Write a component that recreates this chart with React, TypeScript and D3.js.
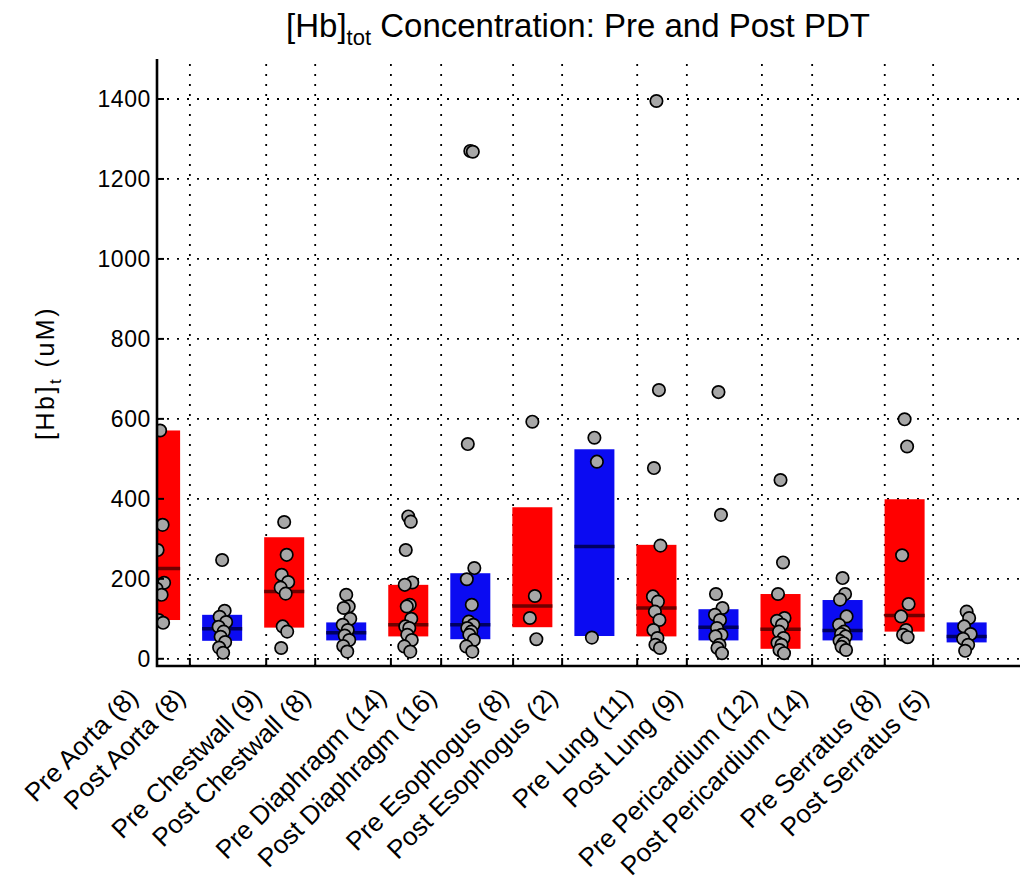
import React from "react";
import * as d3 from "d3";

// Tissue groups, in plotting order (positions 1..14)
const categories = [
  "Pre Aorta (8)",
  "Post Aorta (8)",
  "Pre Chestwall (9)",
  "Post Chestwall (8)",
  "Pre Diaphragm (14)",
  "Post Diaphragm (16)",
  "Pre Esophogus (8)",
  "Post Esophogus (2)",
  "Pre Lung (11)",
  "Post Lung (9)",
  "Pre Pericardium (12)",
  "Post Pericardium (14)",
  "Pre Serratus (8)",
  "Post Serratus (5)",
];

// Box extents and medians, [Hb]t in uM
const boxLow = [97, 45, 78, 46, 56, 49, 79, 57, 56, 46, 25, 46, 68, 41];
const boxHigh = [571, 110, 304, 91, 185, 214, 379, 524, 285, 124, 162, 147, 399, 91];
const medians = [226, 75, 168, 65, 85, 85, 132, 281, 127, 79, 74, 71, 108, 56];

// Individual measurements per group
const samples: number[][] = [
  [571, 335, 272, 190, 175, 160, 97, 90],
  [247, 120, 105, 92, 80, 68, 55, 42, 28, 15],
  [342, 260, 210, 192, 178, 163, 81, 68, 27],
  [160, 131, 127, 100, 85, 72, 58, 47, 32, 18],
  [356, 343, 272, 191, 185, 135, 131, 100, 81, 77, 60, 47, 31, 18],
  [1270, 1268, 537, 227, 199, 135, 93, 85, 77, 68, 60, 47, 31, 18],
  [593, 157, 102, 49],
  [553, 493, 53],
  [1395, 672, 477, 283, 156, 143, 118, 97, 72, 52, 35, 27],
  [667, 360, 162, 127, 110, 97, 77, 60, 56, 35, 27, 14],
  [447, 241, 162, 102, 95, 85, 68, 52, 40, 35, 22, 14],
  [202, 162, 148, 106, 85, 68, 62, 56, 45, 39, 30, 22],
  [599, 531, 259, 137, 106, 72, 60, 54],
  [118, 102, 81, 62, 50, 35, 20],
];

// Category tick locations on the x axis (in group-position units)
const xTickPositions = [
  0.72, 1.48, 2.71, 3.5, 4.72, 5.53, 6.69, 7.48, 8.69, 9.49, 10.7, 11.51, 12.68, 13.46,
];
const yTicks = [0, 200, 400, 600, 800, 1000, 1200, 1400];

const W = 1024;
const H = 888;
const left = 157;
const right = 1020;
const top = 59;
const bottom = 666;

const RED = "#ff0000";
const BLUE = "#0b0bf2";
const RED_MED = "#6e0000";
const BLUE_MED = "#000060";
const FONT = "'Liberation Sans', Arial, Helvetica, sans-serif";

// horizontal spread of markers inside a group (fraction of box half-width)
const spread = [0, 0.25, -0.25, 0.4, -0.35, 0.15, -0.15, 0.3, -0.3, 0.1, -0.1, 0.35, -0.4, 0.2, -0.2, 0.05];

export default function App() {
  const x = d3.scaleLinear().domain([0.95, 14.86]).range([left, right]);
  const y = d3.scaleLinear().domain([-18, 1500]).range([bottom, top]);
  const boxW = x(1.645) - x(1);
  const half = boxW / 2;

  const visibleTicks = xTickPositions.filter((t) => t >= x.domain()[0] && t <= x.domain()[1]);

  return (
    <svg
      width={W}
      height={H}
      viewBox={`0 0 ${W} ${H}`}
      style={{ position: "fixed", left: 0, top: 0, background: "#fff" }}
      fontFamily={FONT}
    >
      <defs>
        <clipPath id="plotArea">
          <rect x={left} y={top} width={right - left} height={bottom - top} />
        </clipPath>
      </defs>
      <rect x={0} y={0} width={W} height={H} fill="#fff" />

      {/* title */}
      <text x={578} y={37} textAnchor="middle" fontSize={33} fill="#000">
        [Hb]
        <tspan fontSize={22} dy={8}>tot</tspan>
        <tspan dy={-8}> Concentration: Pre and Post PDT</tspan>
      </text>

      {/* grid */}
      <g stroke="#000" strokeWidth={1.8} strokeDasharray="2 8" fill="none">
        {yTicks.map((v) => (
          <line key={`gy${v}`} x1={left} x2={right} y1={y(v)} y2={y(v)} />
        ))}
        {visibleTicks.map((t) => (
          <line key={`gx${t}`} x1={x(t)} x2={x(t)} y1={bottom} y2={top} />
        ))}
      </g>

      <g clipPath="url(#plotArea)">
        {/* boxes */}
        {categories.map((c, i) => {
          const cx = x(i + 1);
          return (
            <rect
              key={`b${c}`}
              x={cx - half}
              y={y(boxHigh[i])}
              width={boxW}
              height={y(boxLow[i]) - y(boxHigh[i])}
              fill={i % 2 === 0 ? RED : BLUE}
            />
          );
        })}
        {/* medians */}
        {categories.map((c, i) => {
          const cx = x(i + 1);
          return (
            <line
              key={`m${c}`}
              x1={cx - half}
              x2={cx + half}
              y1={y(medians[i])}
              y2={y(medians[i])}
              stroke={i % 2 === 0 ? RED_MED : BLUE_MED}
              strokeWidth={3.5}
            />
          );
        })}
        {/* individual measurements */}
        {samples.map((vals, i) =>
          vals.map((v, k) => (
            <circle
              key={`p${i}-${k}`}
              cx={x(i + 1) + spread[k % spread.length] * half * 0.5}
              cy={y(v)}
              r={6.2}
              fill="#a7a7a7"
              stroke="#000"
              strokeWidth={1.7}
            />
          ))
        )}
      </g>

      {/* axes */}
      <g stroke="#000" strokeWidth={2}>
        {visibleTicks.map((t) => (
          <line key={`tx${t}`} x1={x(t)} x2={x(t)} y1={bottom} y2={bottom - 8} />
        ))}
        {yTicks.map((v) => (
          <line key={`ty${v}`} x1={left} x2={left + 7} y1={y(v)} y2={y(v)} />
        ))}
      </g>
      <path
        d={`M${left},${top}V${bottom}H${right}`}
        fill="none"
        stroke="#000"
        strokeWidth={2.6}
      />

      {/* y tick labels */}
      {yTicks.map((v) => (
        <text
          key={`yl${v}`}
          x={151}
          y={y(v)}
          dy="0.36em"
          textAnchor="end"
          fontSize={23}
          letterSpacing={0.6}
          fill="#000"
        >
          {v}
        </text>
      ))}

      {/* y axis label */}
      <text
        transform={`translate(54,${373}) rotate(-90)`}
        textAnchor="middle"
        fontSize={25}
        letterSpacing={2.5}
        fill="#000"
      >
        [Hb]
        <tspan fontSize={17} dy={7}>t</tspan>
        <tspan dy={-7}>  (uM)</tspan>
      </text>

      {/* category labels */}
      {categories.map((c, i) => (
        <text
          key={`xl${c}`}
          transform={`translate(${x(xTickPositions[i]) - 3},${699}) rotate(-45)`}
          textAnchor="end"
          fontSize={26}
          fill="#000"
        >
          {c}
        </text>
      ))}
    </svg>
  );
}
